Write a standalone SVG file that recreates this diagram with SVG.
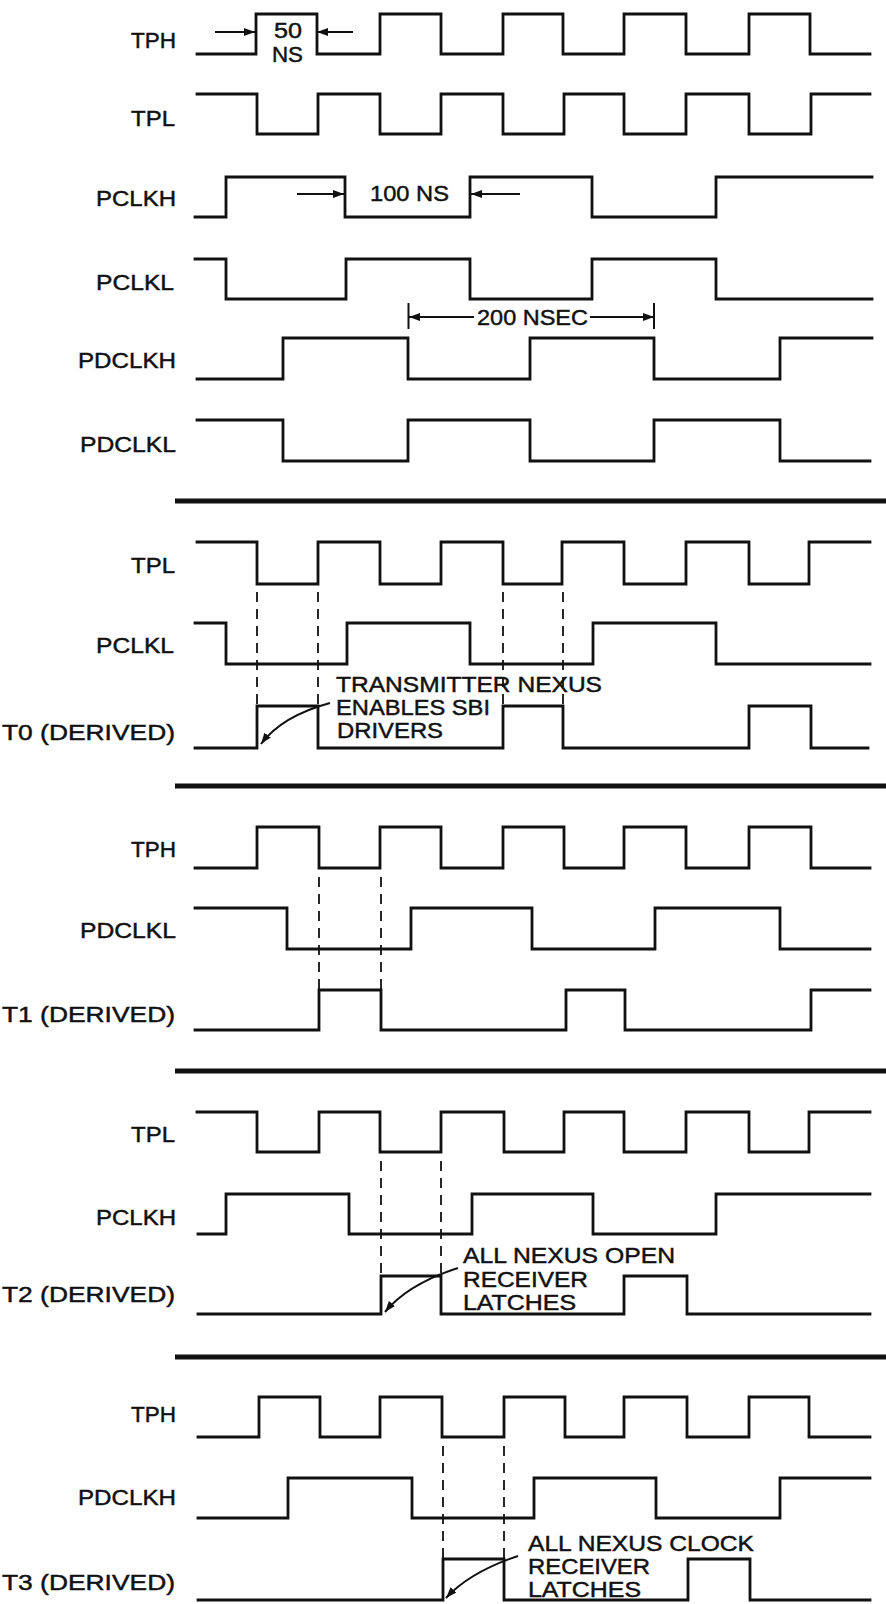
<svg xmlns="http://www.w3.org/2000/svg" width="886" height="1604" viewBox="0 0 886 1604">
<style>
.w{fill:none;stroke:#111;stroke-width:2.8;stroke-linejoin:miter;stroke-linecap:square}
.sep{stroke:#111;stroke-width:5}
.d{stroke:#111;stroke-width:1.8;stroke-dasharray:10 7;fill:none}
.a{stroke:#111;stroke-width:2;fill:none}
.lbl{font-family:"Liberation Sans",Arial,sans-serif;font-size:22px;fill:#111;stroke:#111;stroke-width:0.45}
.txt{font-family:"Liberation Sans",Arial,sans-serif;font-size:22px;fill:#111;stroke:#111;stroke-width:0.45}
</style>
<defs>
<marker id="ah" markerWidth="12" markerHeight="9" refX="11" refY="4" orient="auto" markerUnits="userSpaceOnUse">
<path d="M0,0 L11,4 L0,8 z" fill="#111"/>
</marker>
</defs>
<rect width="886" height="1604" fill="#fff"/>

<g id="labels">
<text class="lbl" x="131" y="48" textLength="45" lengthAdjust="spacingAndGlyphs">TPH</text>
<text class="lbl" x="131" y="126" textLength="44" lengthAdjust="spacingAndGlyphs">TPL</text>
<text class="lbl" x="96" y="206" textLength="80" lengthAdjust="spacingAndGlyphs">PCLKH</text>
<text class="lbl" x="96" y="290" textLength="78" lengthAdjust="spacingAndGlyphs">PCLKL</text>
<text class="lbl" x="78" y="368" textLength="98" lengthAdjust="spacingAndGlyphs">PDCLKH</text>
<text class="lbl" x="80" y="452" textLength="96" lengthAdjust="spacingAndGlyphs">PDCLKL</text>
<text class="lbl" x="131" y="573" textLength="44" lengthAdjust="spacingAndGlyphs">TPL</text>
<text class="lbl" x="96" y="653" textLength="78" lengthAdjust="spacingAndGlyphs">PCLKL</text>
<text class="lbl" x="2" y="740" textLength="173" lengthAdjust="spacingAndGlyphs">T0 (DERIVED)</text>
<text class="lbl" x="131" y="857" textLength="45" lengthAdjust="spacingAndGlyphs">TPH</text>
<text class="lbl" x="80" y="938" textLength="96" lengthAdjust="spacingAndGlyphs">PDCLKL</text>
<text class="lbl" x="2" y="1022" textLength="173" lengthAdjust="spacingAndGlyphs">T1 (DERIVED)</text>
<text class="lbl" x="131" y="1142" textLength="44" lengthAdjust="spacingAndGlyphs">TPL</text>
<text class="lbl" x="96" y="1225" textLength="80" lengthAdjust="spacingAndGlyphs">PCLKH</text>
<text class="lbl" x="2" y="1302" textLength="173" lengthAdjust="spacingAndGlyphs">T2 (DERIVED)</text>
<text class="lbl" x="131" y="1422" textLength="45" lengthAdjust="spacingAndGlyphs">TPH</text>
<text class="lbl" x="78" y="1505" textLength="98" lengthAdjust="spacingAndGlyphs">PDCLKH</text>
<text class="lbl" x="2" y="1590" textLength="173" lengthAdjust="spacingAndGlyphs">T3 (DERIVED)</text>
</g>

<g id="separators">
<line class="sep" x1="175" y1="501" x2="886" y2="501"/>
<line class="sep" x1="175" y1="786" x2="886" y2="786"/>
<line class="sep" x1="175" y1="1071" x2="886" y2="1071"/>
<line class="sep" x1="175" y1="1357" x2="886" y2="1357"/>
</g>

<g id="sec1">
<path id="tph1" class="w" d="M197,54 H256 V14 H317 V54 H380 V14 H441 V54 H503 V14 H563 V54 H624 V14 H686 V54 H749 V14 H810 V54 H870"/>
<path id="tpl1" class="w" d="M197,94 H257 V134 H318 V94 H380 V134 H441 V94 H503 V134 H564 V94 H624 V134 H686 V94 H749 V134 H811 V94 H870"/>
<path id="pclkh1" class="w" d="M195,217 H226 V177 H345 V217 H470 V177 H592 V217 H716 V177 H872"/>
<path id="pclkl1" class="w" d="M195,259 H226 V299 H346 V259 H470 V299 H592 V259 H716 V299 H872"/>
<path id="pdclkh1" class="w" d="M197,379 H283 V338 H408 V379 H530 V338 H654 V379 H780 V338 H872"/>
<path id="pdclkl1" class="w" d="M197,420 H283 V461 H408 V420 H530 V461 H654 V420 H780 V461 H870"/>
</g>

<g id="annotations">
<line class="a" x1="215" y1="32" x2="255" y2="32" marker-end="url(#ah)"/>
<line class="a" x1="353" y1="32" x2="317" y2="32" marker-end="url(#ah)"/>
<text class="txt" x="274" y="38" textLength="28" lengthAdjust="spacingAndGlyphs">50</text>
<text class="txt" x="272" y="62" textLength="31" lengthAdjust="spacingAndGlyphs">NS</text>
<line class="a" x1="297" y1="194" x2="344" y2="194" marker-end="url(#ah)"/>
<line class="a" x1="520" y1="194" x2="471" y2="194" marker-end="url(#ah)"/>
<text class="txt" x="370" y="201" textLength="79" lengthAdjust="spacingAndGlyphs">100 NS</text>
<line class="a" x1="408.5" y1="303" x2="408.5" y2="329"/>
<line class="a" x1="654" y1="303" x2="654" y2="329"/>
<line class="a" x1="474" y1="317" x2="409" y2="317" marker-end="url(#ah)"/>
<line class="a" x1="590" y1="317" x2="654" y2="317" marker-end="url(#ah)"/>
<text class="txt" x="477" y="325" textLength="111" lengthAdjust="spacingAndGlyphs">200 NSEC</text>
</g>

<g id="sec2">
<path id="tpl2" class="w" d="M197,542 H257 V584 H318 V542 H380 V584 H441 V542 H503 V584 H562 V542 H624 V584 H686 V542 H749 V584 H809 V542 H870"/>
<path id="pclkl2" class="w" d="M195,623 H226 V664 H347 V623 H470 V664 H593 V623 H716 V664 H870"/>
<path id="t0" class="w" d="M195,748 H257 V706 H318 V748 H503 V706 H563 V748 H749 V706 H811 V748 H868"/>
<line class="d" x1="257" y1="592" x2="257" y2="706"/>
<line class="d" x1="318" y1="592" x2="318" y2="706"/>
<line class="d" x1="503" y1="592" x2="503" y2="706"/>
<line class="d" x1="563" y1="592" x2="563" y2="706"/>
<text class="txt" x="336" y="692" textLength="266" lengthAdjust="spacingAndGlyphs">TRANSMITTER NEXUS</text>
<text class="txt" x="336" y="715" textLength="154" lengthAdjust="spacingAndGlyphs">ENABLES SBI</text>
<text class="txt" x="337" y="738" textLength="106" lengthAdjust="spacingAndGlyphs">DRIVERS</text>
<path class="a" d="M330,703 Q282,716 261,744" marker-end="url(#ah)"/>
</g>

<g id="sec3">
<path id="tph3" class="w" d="M195,868 H257 V827 H319 V868 H380 V827 H441 V868 H503 V827 H564 V868 H624 V827 H686 V868 H749 V827 H811 V868 H870"/>
<path id="pdclkl3" class="w" d="M195,908 H287 V949 H411 V908 H532 V949 H655 V908 H780 V949 H870"/>
<path id="t1" class="w" d="M195,1030 H319 V990 H381 V1030 H566 V990 H625 V1030 H811 V990 H870"/>
<line class="d" x1="319" y1="877" x2="319" y2="990"/>
<line class="d" x1="381" y1="877" x2="381" y2="990"/>
</g>

<g id="sec4">
<path id="tpl4" class="w" d="M197,1112 H257 V1152 H319 V1112 H380 V1152 H441 V1112 H504 V1152 H564 V1112 H624 V1152 H686 V1112 H749 V1152 H809 V1112 H870"/>
<path id="pclkh4" class="w" d="M198,1234 H226 V1194 H349 V1234 H472 V1194 H593 V1234 H716 V1194 H870"/>
<path id="t2" class="w" d="M198,1314 H381 V1276 H441 V1314 H624 V1276 H687 V1314 H870"/>
<line class="d" x1="381" y1="1161" x2="381" y2="1276"/>
<line class="d" x1="441" y1="1161" x2="441" y2="1276"/>
<text class="txt" x="463" y="1263" textLength="212" lengthAdjust="spacingAndGlyphs">ALL NEXUS OPEN</text>
<text class="txt" x="463" y="1287" textLength="125" lengthAdjust="spacingAndGlyphs">RECEIVER</text>
<text class="txt" x="463" y="1310" textLength="113" lengthAdjust="spacingAndGlyphs">LATCHES</text>
<path class="a" d="M458,1268 Q408,1284 385,1312" marker-end="url(#ah)"/>
</g>

<g id="sec5">
<path id="tph5" class="w" d="M198,1437 H259 V1397 H320 V1437 H380 V1397 H442 V1437 H504 V1397 H565 V1437 H624 V1397 H687 V1437 H749 V1397 H809 V1437 H870"/>
<path id="pdclkh5" class="w" d="M198,1518 H288 V1478 H412 V1518 H534 V1478 H656 V1518 H780 V1478 H870"/>
<path id="t3" class="w" d="M198,1600 H443 V1559 H504 V1600 H688 V1559 H750 V1600 H870"/>
<line class="d" x1="443" y1="1446" x2="443" y2="1559"/>
<line class="d" x1="504" y1="1446" x2="504" y2="1559"/>
<text class="txt" x="528" y="1551" textLength="226" lengthAdjust="spacingAndGlyphs">ALL NEXUS CLOCK</text>
<text class="txt" x="528" y="1574" textLength="122" lengthAdjust="spacingAndGlyphs">RECEIVER</text>
<text class="txt" x="528" y="1597" textLength="113" lengthAdjust="spacingAndGlyphs">LATCHES</text>
<path class="a" d="M518,1556 Q470,1572 446,1598" marker-end="url(#ah)"/>
</g>
</svg>
